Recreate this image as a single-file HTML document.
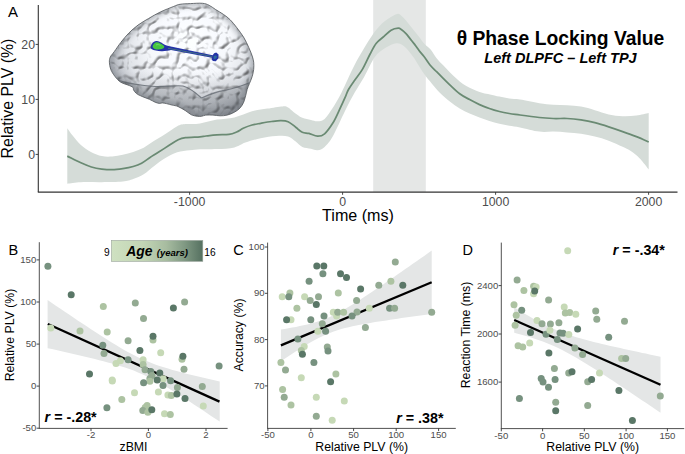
<!DOCTYPE html>
<html><head><meta charset="utf-8"><style>
html,body{margin:0;padding:0;background:#fff;width:685px;height:454px;overflow:hidden}
svg{display:block}
text{font-family:"Liberation Sans",sans-serif}
</style></head><body>
<svg width="685" height="454" viewBox="0 0 685 454" font-family="Liberation Sans, sans-serif">
<rect x="0" y="0" width="685" height="454" fill="#ffffff"/>
<rect x="373.2" y="0" width="52.6" height="192" fill="#e5e7e6"/>
<path d="M67.3,128.2 C68.2,129.4 70.3,132.8 72.6,135.6 C74.9,138.4 77.8,142.2 80.9,145.0 C84.0,147.8 87.9,150.5 91.4,152.3 C94.9,154.2 98.3,155.4 101.8,156.1 C105.3,156.8 108.8,156.7 112.3,156.5 C115.8,156.3 119.3,155.6 122.8,154.8 C126.3,154.0 129.7,153.1 133.2,151.9 C136.7,150.7 140.2,149.5 143.7,147.7 C147.2,145.8 150.7,143.0 154.2,140.8 C157.7,138.6 160.8,136.9 164.6,134.5 C168.4,132.1 173.7,127.9 177.2,126.2 C180.7,124.5 181.7,124.6 185.5,124.1 C189.3,123.6 194.8,124.2 200.0,123.4 C205.2,122.7 211.2,120.6 216.9,119.6 C222.6,118.6 228.6,118.8 234.4,117.4 C240.2,116.0 246.5,112.7 252.0,111.2 C257.5,109.7 262.2,109.4 267.3,108.6 C272.4,107.8 279.1,106.6 282.6,106.4 C286.1,106.2 286.3,106.6 288.1,107.5 C289.9,108.4 291.1,110.2 293.5,111.9 C295.9,113.6 299.4,116.5 302.3,117.8 C305.2,119.1 308.4,119.4 311.0,120.0 C313.6,120.6 315.3,121.5 317.6,121.3 C319.9,121.1 322.0,121.2 324.6,118.9 C327.2,116.6 330.1,112.0 333.0,107.5 C335.9,103.0 338.1,99.3 341.7,92.2 C345.3,85.1 350.0,73.7 354.7,64.8 C359.4,55.9 366.0,45.0 370.1,38.6 C374.2,32.2 376.3,29.6 379.4,26.2 C382.5,22.8 385.6,20.6 388.6,18.5 C391.6,16.4 395.1,14.3 397.3,13.9 C399.5,13.5 400.2,14.9 401.6,16.0 C403.1,17.1 404.5,18.8 406.0,20.4 C407.5,22.0 408.9,24.1 410.4,25.9 C411.9,27.7 413.3,29.6 414.8,31.4 C416.3,33.2 417.7,35.0 419.2,36.9 C420.7,38.8 422.4,41.4 423.7,43.0 C425.0,44.6 425.7,45.1 427.0,46.3 C428.3,47.5 429.8,48.4 431.4,50.4 C433.0,52.4 434.6,55.7 436.6,58.2 C438.6,60.7 441.0,63.0 443.2,65.3 C445.4,67.6 447.6,70.0 449.8,72.2 C452.0,74.4 454.2,76.6 456.4,78.6 C458.6,80.6 460.8,82.5 463.0,84.0 C465.2,85.5 467.4,86.7 469.6,87.8 C471.8,88.9 474.1,89.9 476.3,90.8 C478.5,91.7 480.6,92.3 482.9,92.9 C485.2,93.5 487.2,93.8 490.0,94.4 C492.8,95.0 496.2,95.9 499.4,96.6 C502.6,97.3 505.9,98.1 509.3,98.6 C512.7,99.1 515.0,98.8 520.0,99.6 C525.0,100.4 533.8,102.4 539.3,103.3 C544.8,104.2 548.6,104.4 553.2,104.7 C557.8,105.0 562.5,104.9 567.1,105.2 C571.7,105.5 576.4,105.8 581.0,106.6 C585.6,107.4 590.2,108.9 594.8,110.2 C599.4,111.5 604.1,113.4 608.7,114.4 C613.3,115.4 618.0,116.1 622.6,116.3 C627.2,116.5 632.0,116.1 636.4,115.6 C640.8,115.0 646.7,113.4 648.7,113.0 L648.7,169.5 C647.6,168.1 644.0,163.4 642.0,161.0 C640.0,158.6 638.4,157.1 636.4,155.3 C634.4,153.6 632.3,151.9 630.0,150.5 C627.7,149.1 626.1,148.4 622.6,146.8 C619.1,145.2 613.3,142.4 608.7,140.7 C604.1,139.0 599.4,137.8 594.8,136.6 C590.2,135.4 585.6,134.5 581.0,133.8 C576.4,133.1 571.7,132.8 567.1,132.4 C562.5,132.0 557.8,131.7 553.2,131.6 C548.6,131.5 544.8,132.3 539.3,131.6 C533.8,130.9 525.0,128.4 520.0,127.4 C515.0,126.4 512.7,126.4 509.3,125.8 C505.9,125.2 502.7,124.6 499.4,123.8 C496.1,123.0 492.7,122.0 489.4,121.0 C486.1,120.0 482.8,118.8 479.5,117.5 C476.2,116.2 472.9,115.0 469.6,113.5 C466.3,112.0 463.0,110.5 459.7,108.5 C456.4,106.5 453.1,104.2 449.8,101.6 C446.5,99.0 442.8,95.7 439.8,92.7 C436.8,89.7 434.5,86.9 431.9,83.7 C429.3,80.5 427.1,78.2 424.0,73.8 C420.9,69.4 416.6,61.7 413.3,57.1 C410.0,52.5 406.9,48.6 404.1,46.3 C401.3,44.0 399.5,43.0 396.4,43.2 C393.3,43.5 389.2,45.5 385.6,47.8 C382.0,50.1 378.4,52.2 374.8,57.1 C371.2,62.0 367.4,71.3 364.0,77.2 C360.6,83.1 357.9,87.0 354.7,92.6 C351.5,98.2 348.6,103.8 345.0,111.0 C341.4,118.2 336.4,130.0 333.0,136.0 C329.6,142.0 327.2,144.5 324.6,146.9 C322.0,149.3 319.9,149.9 317.6,150.2 C315.3,150.5 313.6,149.2 311.0,148.7 C308.4,148.1 304.9,148.1 302.3,146.9 C299.8,145.7 298.1,143.2 295.7,141.5 C293.3,139.8 291.4,137.3 288.1,136.4 C284.8,135.5 280.6,135.7 276.0,136.0 C271.4,136.3 265.8,137.1 260.7,138.2 C255.6,139.3 249.8,141.1 245.4,142.6 C241.0,144.1 239.2,146.3 234.4,147.4 C229.7,148.5 222.6,148.8 216.9,149.1 C211.2,149.4 204.5,149.0 200.0,149.2 C195.5,149.4 193.5,149.7 189.7,150.2 C185.9,150.7 181.4,150.9 177.2,152.3 C173.0,153.7 168.4,156.3 164.6,158.6 C160.8,160.9 157.7,163.3 154.2,165.9 C150.7,168.5 147.2,172.1 143.7,174.3 C140.2,176.5 136.7,177.9 133.2,179.1 C129.7,180.3 128.0,181.1 122.8,181.6 C117.6,182.1 108.8,182.1 101.8,182.2 C94.8,182.3 86.7,181.9 80.9,182.2 C75.2,182.4 69.6,183.4 67.3,183.7 Z" fill="#d5dcd8"/>
<path d="M67.3,156.1 C69.6,157.2 76.9,161.0 80.9,162.8 C84.9,164.6 87.9,165.9 91.4,167.0 C94.9,168.1 98.3,168.7 101.8,169.1 C105.3,169.5 108.8,169.8 112.3,169.7 C115.8,169.6 119.3,169.1 122.8,168.6 C126.3,168.1 130.1,167.4 133.2,166.5 C136.3,165.6 138.8,164.7 141.6,163.2 C144.4,161.7 147.2,159.3 150.0,157.5 C152.8,155.7 155.2,154.3 158.3,152.3 C161.4,150.3 165.5,147.7 168.8,145.6 C172.1,143.5 175.4,141.1 178.2,139.8 C181.0,138.5 181.9,138.2 185.5,137.7 C189.1,137.2 196.6,137.1 200.0,136.8 C203.4,136.5 203.2,136.3 206.0,136.0 C208.8,135.7 213.1,135.2 216.9,134.9 C220.7,134.6 225.6,134.9 228.9,134.4 C232.2,133.9 234.2,133.0 236.6,132.0 C239.0,131.0 240.6,129.5 243.2,128.3 C245.8,127.1 249.1,125.8 252.0,125.0 C254.9,124.2 257.4,123.9 260.7,123.3 C264.0,122.7 268.3,121.9 271.6,121.5 C274.9,121.1 277.6,120.7 280.4,120.7 C283.1,120.7 285.6,120.6 288.1,121.7 C290.7,122.8 293.3,125.4 295.7,127.2 C298.1,129.0 300.1,131.3 302.3,132.3 C304.5,133.3 306.3,132.8 308.9,133.4 C311.4,134.1 315.0,136.1 317.6,136.2 C320.2,136.3 322.0,136.0 324.6,133.8 C327.2,131.6 330.5,126.8 333.0,122.8 C335.5,118.8 337.5,113.9 339.5,109.7 C341.5,105.5 343.5,101.1 345.0,97.7 C346.5,94.3 346.9,92.4 348.5,89.5 C350.1,86.6 352.4,83.5 354.7,80.2 C357.0,76.9 359.8,73.8 362.4,69.4 C365.0,65.0 367.8,58.4 370.1,54.0 C372.4,49.6 374.0,46.1 376.3,43.2 C378.6,40.3 381.5,38.6 384.0,36.4 C386.5,34.2 388.7,31.6 391.1,30.2 C393.5,28.8 396.6,28.3 398.3,28.2 C400.1,28.1 400.3,28.9 401.6,29.8 C402.9,30.7 404.5,32.1 406.0,33.6 C407.5,35.1 408.9,37.3 410.4,39.1 C411.9,40.9 413.3,42.7 414.8,44.6 C416.3,46.5 417.7,48.7 419.2,50.7 C420.7,52.7 422.2,54.1 424.0,56.5 C425.8,58.9 427.9,62.5 430.0,65.0 C432.1,67.5 434.4,69.5 436.6,71.7 C438.8,73.9 441.0,76.1 443.2,78.3 C445.4,80.5 447.1,82.2 449.8,84.8 C452.6,87.4 456.4,91.2 459.7,93.7 C463.0,96.2 466.3,97.8 469.6,99.6 C472.9,101.4 476.2,103.1 479.5,104.6 C482.8,106.1 486.1,107.3 489.4,108.5 C492.7,109.7 496.1,110.7 499.4,111.5 C502.7,112.3 505.9,112.9 509.3,113.5 C512.7,114.1 515.0,114.3 520.0,115.0 C525.0,115.7 533.8,116.9 539.3,117.5 C544.8,118.1 548.6,118.3 553.2,118.5 C557.8,118.7 562.5,118.3 567.1,118.5 C571.7,118.7 576.4,119.2 581.0,119.9 C585.6,120.6 590.2,121.5 594.8,122.7 C599.4,123.9 604.1,125.4 608.7,126.9 C613.3,128.4 618.0,130.0 622.6,131.6 C627.2,133.2 632.0,134.9 636.4,136.6 C640.8,138.3 646.7,141.1 648.7,142.0" fill="none" stroke="#6a8a73" stroke-width="1.75" stroke-linejoin="round"/>
<line x1="38.3" y1="5" x2="38.3" y2="192.1" stroke="#333333" stroke-width="1.1"/>
<line x1="37.8" y1="192.1" x2="677.5" y2="192.1" stroke="#333333" stroke-width="1.1"/>
<line x1="35.6" y1="44.4" x2="38.3" y2="44.4" stroke="#333333" stroke-width="0.9"/><text x="35.0" y="45.4" font-size="12.3" fill="#4d4d4d" text-anchor="end" dominant-baseline="central">20</text><line x1="35.6" y1="99.4" x2="38.3" y2="99.4" stroke="#333333" stroke-width="0.9"/><text x="35.0" y="100.4" font-size="12.3" fill="#4d4d4d" text-anchor="end" dominant-baseline="central">10</text><line x1="35.6" y1="154.4" x2="38.3" y2="154.4" stroke="#333333" stroke-width="0.9"/><text x="35.0" y="155.4" font-size="12.3" fill="#4d4d4d" text-anchor="end" dominant-baseline="central">0</text>
<line x1="189.6" y1="192.1" x2="189.6" y2="194.8" stroke="#333333" stroke-width="0.9"/><text x="189.6" y="205.7" font-size="12.3" fill="#4d4d4d" text-anchor="middle">-1000</text><line x1="342.6" y1="192.1" x2="342.6" y2="194.8" stroke="#333333" stroke-width="0.9"/><text x="342.6" y="205.7" font-size="12.3" fill="#4d4d4d" text-anchor="middle">0</text><line x1="495.6" y1="192.1" x2="495.6" y2="194.8" stroke="#333333" stroke-width="0.9"/><text x="495.6" y="205.7" font-size="12.3" fill="#4d4d4d" text-anchor="middle">1000</text><line x1="648.6" y1="192.1" x2="648.6" y2="194.8" stroke="#333333" stroke-width="0.9"/><text x="648.6" y="205.7" font-size="12.3" fill="#4d4d4d" text-anchor="middle">2000</text>
<text x="358" y="220.8" font-size="16.1" text-anchor="middle" fill="#000">Time (ms)</text>
<text transform="translate(13.3,98.5) rotate(-90)" font-size="15.9" text-anchor="middle" fill="#000">Relative PLV (%)</text>
<text x="7.9" y="16.9" font-size="15" fill="#000">A</text>
<text x="560.5" y="45" font-size="19.3" font-weight="bold" text-anchor="middle" fill="#000">θ Phase Locking Value</text>
<text x="560.5" y="62.7" font-size="14.5" font-weight="bold" font-style="italic" text-anchor="middle" fill="#000">Left DLPFC – Left TPJ</text>
<path d="M47.6,300.0 L51.9,303.0 L56.2,305.9 L60.5,308.8 L64.8,311.7 L69.1,314.6 L73.4,317.5 L77.7,320.4 L82.0,323.2 L86.3,326.1 L90.6,328.9 L94.9,331.7 L99.2,334.5 L103.5,337.3 L107.8,340.0 L112.1,342.7 L116.4,345.3 L120.7,347.9 L125.0,350.4 L129.3,352.8 L133.7,355.1 L138.0,357.2 L142.3,359.2 L146.6,361.1 L150.9,362.8 L155.2,364.4 L159.5,365.9 L163.8,367.3 L168.1,368.6 L172.4,369.9 L176.7,371.1 L181.0,372.2 L185.3,373.4 L189.6,374.4 L193.9,375.5 L198.2,376.5 L202.5,377.6 L206.8,378.6 L211.1,379.6 L215.4,380.6 L219.7,381.6 L219.7,421.6 L215.4,418.8 L211.1,415.9 L206.8,413.0 L202.5,410.1 L198.2,407.3 L193.9,404.4 L189.6,401.6 L185.3,398.8 L181.0,396.1 L176.7,393.4 L172.4,390.7 L168.1,388.1 L163.8,385.5 L159.5,383.0 L155.2,380.6 L150.9,378.4 L146.6,376.2 L142.3,374.2 L138.0,372.4 L133.7,370.6 L129.3,369.1 L125.0,367.6 L120.7,366.2 L116.4,364.9 L112.1,363.6 L107.8,362.4 L103.5,361.3 L99.2,360.2 L94.9,359.1 L90.6,358.0 L86.3,357.0 L82.0,356.0 L77.7,355.0 L73.4,354.0 L69.1,353.0 L64.8,352.0 L60.5,351.0 L56.2,350.1 L51.9,349.1 L47.6,348.2 Z" fill="#e4e6e6"/>
<line x1="47.8" y1="324" x2="219.5" y2="401.6" stroke="#000" stroke-width="2.3"/>
<circle cx="47.9" cy="266.2" r="3.5" fill="#76917f"/>
<circle cx="71.2" cy="294.8" r="3.5" fill="#5a7767"/>
<circle cx="103.3" cy="306.4" r="3.5" fill="#adc3a2"/>
<circle cx="135.3" cy="303.0" r="3.5" fill="#93aa92"/>
<circle cx="173.4" cy="308.0" r="3.5" fill="#5a7767"/>
<circle cx="184.6" cy="302.0" r="3.5" fill="#93aa92"/>
<circle cx="143.5" cy="318.5" r="3.5" fill="#93aa92"/>
<circle cx="50.8" cy="328.0" r="3.5" fill="#c6d9b6"/>
<circle cx="80.0" cy="331.0" r="3.5" fill="#adc3a2"/>
<circle cx="107.2" cy="332.0" r="3.5" fill="#adc3a2"/>
<circle cx="153.0" cy="340.0" r="3.5" fill="#adc3a2"/>
<circle cx="153.0" cy="336.2" r="3.5" fill="#5a7767"/>
<circle cx="128.1" cy="340.7" r="3.5" fill="#93aa92"/>
<circle cx="102.8" cy="345.2" r="3.5" fill="#76917f"/>
<circle cx="104.0" cy="353.5" r="3.5" fill="#93aa92"/>
<circle cx="139.9" cy="350.5" r="3.5" fill="#5a7767"/>
<circle cx="160.7" cy="352.7" r="3.5" fill="#c6d9b6"/>
<circle cx="182.0" cy="359.2" r="3.5" fill="#adc3a2"/>
<circle cx="182.9" cy="356.3" r="3.5" fill="#5a7767"/>
<circle cx="219.1" cy="365.9" r="3.5" fill="#76917f"/>
<circle cx="116.0" cy="363.4" r="3.5" fill="#c6d9b6"/>
<circle cx="120.4" cy="360.8" r="3.5" fill="#c6d9b6"/>
<circle cx="128.1" cy="359.7" r="3.5" fill="#76917f"/>
<circle cx="143.1" cy="359.7" r="3.5" fill="#c6d9b6"/>
<circle cx="143.1" cy="364.5" r="3.5" fill="#adc3a2"/>
<circle cx="89.5" cy="374.0" r="3.5" fill="#5a7767"/>
<circle cx="112.2" cy="380.0" r="3.5" fill="#c6d9b6"/>
<circle cx="184.0" cy="369.2" r="3.5" fill="#93aa92"/>
<circle cx="145.0" cy="369.7" r="3.5" fill="#93aa92"/>
<circle cx="150.8" cy="371.5" r="3.5" fill="#76917f"/>
<circle cx="159.8" cy="372.9" r="3.5" fill="#5a7767"/>
<circle cx="152.0" cy="375.4" r="3.5" fill="#93aa92"/>
<circle cx="149.9" cy="378.5" r="3.5" fill="#93aa92"/>
<circle cx="149.9" cy="381.2" r="3.5" fill="#adc3a2"/>
<circle cx="163.2" cy="378.8" r="3.5" fill="#c6d9b6"/>
<circle cx="157.2" cy="380.0" r="3.5" fill="#5a7767"/>
<circle cx="170.6" cy="380.7" r="3.5" fill="#76917f"/>
<circle cx="143.6" cy="382.8" r="3.5" fill="#76917f"/>
<circle cx="163.0" cy="385.6" r="3.5" fill="#76917f"/>
<circle cx="177.4" cy="387.4" r="3.5" fill="#93aa92"/>
<circle cx="202.3" cy="386.5" r="3.5" fill="#93aa92"/>
<circle cx="134.5" cy="392.8" r="3.5" fill="#c6d9b6"/>
<circle cx="158.4" cy="392.1" r="3.5" fill="#c6d9b6"/>
<circle cx="167.9" cy="394.9" r="3.5" fill="#c6d9b6"/>
<circle cx="171.3" cy="395.6" r="3.5" fill="#adc3a2"/>
<circle cx="176.9" cy="393.9" r="3.5" fill="#5a7767"/>
<circle cx="185.0" cy="398.5" r="3.5" fill="#5a7767"/>
<circle cx="121.8" cy="399.6" r="3.5" fill="#adc3a2"/>
<circle cx="203.3" cy="405.9" r="3.5" fill="#c6d9b6"/>
<circle cx="106.9" cy="407.7" r="3.5" fill="#76917f"/>
<circle cx="147.1" cy="405.5" r="3.5" fill="#adc3a2"/>
<circle cx="145.2" cy="407.6" r="3.5" fill="#adc3a2"/>
<circle cx="142.8" cy="410.6" r="3.5" fill="#93aa92"/>
<circle cx="147.9" cy="412.2" r="3.5" fill="#adc3a2"/>
<circle cx="151.8" cy="409.7" r="3.5" fill="#5a7767"/>
<circle cx="164.5" cy="413.8" r="3.5" fill="#c6d9b6"/>
<circle cx="170.3" cy="414.6" r="3.5" fill="#adc3a2"/>
<circle cx="112.3" cy="381.0" r="3.5" fill="#c6d9b6"/>
<line x1="39.3" y1="242.2" x2="39.3" y2="428.4" stroke="#484848" stroke-width="0.95"/>
<line x1="38.8" y1="428.4" x2="227.6" y2="428.4" stroke="#484848" stroke-width="0.95"/>
<line x1="36.6" y1="259.9" x2="39.3" y2="259.9" stroke="#333333" stroke-width="0.9"/><text x="36.3" y="259.4" font-size="9.6" fill="#4d4d4d" text-anchor="end" dominant-baseline="central">150</text><line x1="36.6" y1="302.0" x2="39.3" y2="302.0" stroke="#333333" stroke-width="0.9"/><text x="36.3" y="301.5" font-size="9.6" fill="#4d4d4d" text-anchor="end" dominant-baseline="central">100</text><line x1="36.6" y1="344.1" x2="39.3" y2="344.1" stroke="#333333" stroke-width="0.9"/><text x="36.3" y="343.6" font-size="9.6" fill="#4d4d4d" text-anchor="end" dominant-baseline="central">50</text><line x1="36.6" y1="386.1" x2="39.3" y2="386.1" stroke="#333333" stroke-width="0.9"/><text x="36.3" y="385.6" font-size="9.6" fill="#4d4d4d" text-anchor="end" dominant-baseline="central">0</text><line x1="36.6" y1="428.2" x2="39.3" y2="428.2" stroke="#333333" stroke-width="0.9"/><text x="36.3" y="427.7" font-size="9.6" fill="#4d4d4d" text-anchor="end" dominant-baseline="central">-50</text>
<line x1="91.0" y1="428.4" x2="91.0" y2="431.1" stroke="#333333" stroke-width="0.9"/><text x="91.0" y="438.4" font-size="9.6" fill="#4d4d4d" text-anchor="middle">-2</text><line x1="148.4" y1="428.4" x2="148.4" y2="431.1" stroke="#333333" stroke-width="0.9"/><text x="148.4" y="438.4" font-size="9.6" fill="#4d4d4d" text-anchor="middle">0</text><line x1="206.0" y1="428.4" x2="206.0" y2="431.1" stroke="#333333" stroke-width="0.9"/><text x="206.0" y="438.4" font-size="9.6" fill="#4d4d4d" text-anchor="middle">2</text>
<text x="133.5" y="451" font-size="12.3" text-anchor="middle" fill="#000">zBMI</text>
<text transform="translate(14.2,335) rotate(-90)" font-size="12.3" text-anchor="middle" fill="#000">Relative PLV (%)</text>
<text x="8.5" y="255" font-size="14.5" fill="#000">B</text>
<text x="44.6" y="422.3" font-size="14.3" font-weight="bold" fill="#000"><tspan font-style="italic">r</tspan> = -.28*</text>
<defs><linearGradient id="lg" x1="0" x2="1" y1="0" y2="0"><stop offset="0" stop-color="#cfe1c1"/><stop offset="0.35" stop-color="#c2d5b5"/><stop offset="0.6" stop-color="#a7bca0"/><stop offset="0.8" stop-color="#809983"/><stop offset="1" stop-color="#557060"/></linearGradient></defs>
<rect x="111.4" y="240.4" width="91.4" height="21" fill="url(#lg)" stroke="#9aa59c" stroke-width="0.6"/>
<text x="104" y="256" font-size="10.2" fill="#000">9</text>
<text x="204.3" y="256" font-size="10.2" fill="#000">16</text>
<text x="126.2" y="255.6" font-size="13.9" font-weight="bold" font-style="italic" fill="#000">Age <tspan font-size="9.5" dx="0.5">(years)</tspan></text>
<path d="M280.9,329.6 L284.7,329.0 L288.4,328.3 L292.2,327.6 L296.0,326.9 L299.8,326.1 L303.5,325.3 L307.3,324.4 L311.1,323.5 L314.8,322.4 L318.6,321.2 L322.4,319.9 L326.1,318.5 L329.9,316.9 L333.7,315.1 L337.4,313.2 L341.2,311.2 L345.0,309.0 L348.8,306.8 L352.5,304.5 L356.3,302.2 L360.1,299.8 L363.8,297.3 L367.6,294.8 L371.4,292.3 L375.1,289.8 L378.9,287.2 L382.7,284.7 L386.5,282.1 L390.2,279.5 L394.0,276.9 L397.8,274.3 L401.5,271.7 L405.3,269.1 L409.1,266.5 L412.8,263.8 L416.6,261.2 L420.4,258.6 L424.2,255.9 L427.9,253.3 L431.7,250.6 L431.7,314.0 L427.9,314.5 L424.2,315.0 L420.4,315.5 L416.6,316.0 L412.8,316.5 L409.1,317.1 L405.3,317.6 L401.5,318.1 L397.8,318.7 L394.0,319.2 L390.2,319.8 L386.5,320.4 L382.7,320.9 L378.9,321.5 L375.1,322.1 L371.4,322.8 L367.6,323.4 L363.8,324.1 L360.1,324.8 L356.3,325.5 L352.5,326.3 L348.8,327.2 L345.0,328.1 L341.2,329.1 L337.4,330.3 L333.7,331.5 L329.9,332.9 L326.1,334.5 L322.4,336.2 L318.6,338.0 L314.8,340.0 L311.1,342.1 L307.3,344.3 L303.5,346.6 L299.8,348.9 L296.0,351.3 L292.2,353.7 L288.4,356.2 L284.7,358.7 L280.9,361.2 Z" fill="#e4e6e6"/>
<line x1="280.9" y1="345.4" x2="431.7" y2="282.3" stroke="#000" stroke-width="2.3"/>
<circle cx="316.8" cy="266.0" r="3.5" fill="#5a7767"/>
<circle cx="323.8" cy="266.0" r="3.5" fill="#5a7767"/>
<circle cx="322.9" cy="273.7" r="3.5" fill="#76917f"/>
<circle cx="340.5" cy="273.7" r="3.5" fill="#5a7767"/>
<circle cx="346.5" cy="277.4" r="3.5" fill="#5a7767"/>
<circle cx="309.1" cy="281.2" r="3.5" fill="#76917f"/>
<circle cx="360.6" cy="288.9" r="3.5" fill="#5a7767"/>
<circle cx="282.2" cy="296.8" r="3.5" fill="#c6d9b6"/>
<circle cx="289.9" cy="292.9" r="3.5" fill="#adc3a2"/>
<circle cx="288.8" cy="296.8" r="3.5" fill="#76917f"/>
<circle cx="304.6" cy="296.8" r="3.5" fill="#c6d9b6"/>
<circle cx="310.2" cy="300.6" r="3.5" fill="#93aa92"/>
<circle cx="318.5" cy="296.8" r="3.5" fill="#93aa92"/>
<circle cx="316.3" cy="304.5" r="3.5" fill="#5a7767"/>
<circle cx="338.3" cy="292.9" r="3.5" fill="#adc3a2"/>
<circle cx="356.6" cy="300.6" r="3.5" fill="#93aa92"/>
<circle cx="296.9" cy="308.3" r="3.5" fill="#adc3a2"/>
<circle cx="333.3" cy="312.2" r="3.5" fill="#c6d9b6"/>
<circle cx="336.6" cy="316.0" r="3.5" fill="#c6d9b6"/>
<circle cx="337.7" cy="312.2" r="3.5" fill="#93aa92"/>
<circle cx="343.6" cy="312.2" r="3.5" fill="#adc3a2"/>
<circle cx="357.0" cy="311.9" r="3.5" fill="#93aa92"/>
<circle cx="352.0" cy="316.0" r="3.5" fill="#76917f"/>
<circle cx="324.0" cy="316.0" r="3.5" fill="#76917f"/>
<circle cx="291.0" cy="319.7" r="3.5" fill="#c6d9b6"/>
<circle cx="286.6" cy="319.7" r="3.5" fill="#5a7767"/>
<circle cx="310.8" cy="319.7" r="3.5" fill="#76917f"/>
<circle cx="322.3" cy="323.7" r="3.5" fill="#93aa92"/>
<circle cx="317.9" cy="331.2" r="3.5" fill="#c6d9b6"/>
<circle cx="325.6" cy="331.2" r="3.5" fill="#76917f"/>
<circle cx="297.9" cy="339.0" r="3.5" fill="#76917f"/>
<circle cx="395.3" cy="262.0" r="3.5" fill="#93aa92"/>
<circle cx="378.8" cy="285.2" r="3.5" fill="#93aa92"/>
<circle cx="390.9" cy="281.2" r="3.5" fill="#adc3a2"/>
<circle cx="402.8" cy="285.2" r="3.5" fill="#5a7767"/>
<circle cx="369.3" cy="308.3" r="3.5" fill="#c6d9b6"/>
<circle cx="389.6" cy="308.3" r="3.5" fill="#76917f"/>
<circle cx="394.6" cy="308.3" r="3.5" fill="#93aa92"/>
<circle cx="431.7" cy="312.2" r="3.5" fill="#93aa92"/>
<circle cx="365.4" cy="327.6" r="3.5" fill="#93aa92"/>
<circle cx="304.2" cy="346.5" r="3.5" fill="#c6d9b6"/>
<circle cx="301.3" cy="350.5" r="3.5" fill="#adc3a2"/>
<circle cx="302.4" cy="354.2" r="3.5" fill="#5a7767"/>
<circle cx="327.3" cy="347.0" r="3.5" fill="#93aa92"/>
<circle cx="328.0" cy="350.9" r="3.5" fill="#76917f"/>
<circle cx="280.9" cy="362.4" r="3.5" fill="#adc3a2"/>
<circle cx="313.9" cy="362.4" r="3.5" fill="#76917f"/>
<circle cx="285.5" cy="370.1" r="3.5" fill="#93aa92"/>
<circle cx="301.3" cy="377.8" r="3.5" fill="#c6d9b6"/>
<circle cx="335.9" cy="374.1" r="3.5" fill="#adc3a2"/>
<circle cx="330.6" cy="381.8" r="3.5" fill="#5a7767"/>
<circle cx="282.6" cy="389.5" r="3.5" fill="#adc3a2"/>
<circle cx="284.2" cy="397.2" r="3.5" fill="#93aa92"/>
<circle cx="316.3" cy="397.2" r="3.5" fill="#c6d9b6"/>
<circle cx="291.0" cy="404.9" r="3.5" fill="#adc3a2"/>
<circle cx="344.3" cy="400.9" r="3.5" fill="#c6d9b6"/>
<circle cx="316.3" cy="416.3" r="3.5" fill="#93aa92"/>
<circle cx="332.2" cy="420.3" r="3.5" fill="#c6d9b6"/>
<line x1="267.6" y1="242.6" x2="267.6" y2="428.4" stroke="#484848" stroke-width="0.95"/>
<line x1="267.1" y1="428.4" x2="455.8" y2="428.4" stroke="#484848" stroke-width="0.95"/>
<line x1="264.9" y1="247.0" x2="267.6" y2="247.0" stroke="#333333" stroke-width="0.9"/><text x="264.6" y="246.5" font-size="9.6" fill="#4d4d4d" text-anchor="end" dominant-baseline="central">100</text><line x1="264.9" y1="293.3" x2="267.6" y2="293.3" stroke="#333333" stroke-width="0.9"/><text x="264.6" y="292.8" font-size="9.6" fill="#4d4d4d" text-anchor="end" dominant-baseline="central">90</text><line x1="264.9" y1="339.6" x2="267.6" y2="339.6" stroke="#333333" stroke-width="0.9"/><text x="264.6" y="339.1" font-size="9.6" fill="#4d4d4d" text-anchor="end" dominant-baseline="central">80</text><line x1="264.9" y1="385.9" x2="267.6" y2="385.9" stroke="#333333" stroke-width="0.9"/><text x="264.6" y="385.4" font-size="9.6" fill="#4d4d4d" text-anchor="end" dominant-baseline="central">70</text>
<line x1="267.9" y1="428.4" x2="267.9" y2="431.1" stroke="#333333" stroke-width="0.9"/><text x="267.9" y="438.4" font-size="9.6" fill="#4d4d4d" text-anchor="middle">-50</text><line x1="310.9" y1="428.4" x2="310.9" y2="431.1" stroke="#333333" stroke-width="0.9"/><text x="310.9" y="438.4" font-size="9.6" fill="#4d4d4d" text-anchor="middle">0</text><line x1="353.6" y1="428.4" x2="353.6" y2="431.1" stroke="#333333" stroke-width="0.9"/><text x="353.6" y="438.4" font-size="9.6" fill="#4d4d4d" text-anchor="middle">50</text><line x1="396.2" y1="428.4" x2="396.2" y2="431.1" stroke="#333333" stroke-width="0.9"/><text x="396.2" y="438.4" font-size="9.6" fill="#4d4d4d" text-anchor="middle">100</text><line x1="438.6" y1="428.4" x2="438.6" y2="431.1" stroke="#333333" stroke-width="0.9"/><text x="438.6" y="438.4" font-size="9.6" fill="#4d4d4d" text-anchor="middle">150</text>
<text x="361.7" y="450.5" font-size="12.3" text-anchor="middle" fill="#000">Relative PLV (%)</text>
<text transform="translate(242.5,335) rotate(-90)" font-size="12.3" text-anchor="middle" fill="#000">Accuracy (%)</text>
<text x="233.3" y="255" font-size="14.5" fill="#000">C</text>
<text x="396.2" y="422.5" font-size="14.3" font-weight="bold" fill="#000"><tspan font-style="italic">r</tspan> = .38*</text>
<path d="M514.2,307.2 L517.9,309.5 L521.5,311.7 L525.2,313.9 L528.8,316.1 L532.5,318.2 L536.1,320.3 L539.8,322.2 L543.5,324.1 L547.1,325.9 L550.8,327.7 L554.4,329.3 L558.1,330.8 L561.7,332.2 L565.4,333.6 L569.1,334.9 L572.7,336.0 L576.4,337.2 L580.0,338.3 L583.7,339.3 L587.4,340.3 L591.0,341.2 L594.7,342.2 L598.3,343.1 L602.0,344.0 L605.6,344.8 L609.3,345.7 L613.0,346.5 L616.6,347.3 L620.3,348.1 L623.9,348.9 L627.6,349.7 L631.2,350.5 L634.9,351.3 L638.6,352.1 L642.2,352.9 L645.9,353.6 L649.5,354.4 L653.2,355.2 L656.8,355.9 L660.5,356.7 L660.5,412.7 L656.8,410.2 L653.2,407.8 L649.5,405.3 L645.9,402.8 L642.2,400.4 L638.6,397.9 L634.9,395.4 L631.2,393.0 L627.6,390.5 L623.9,388.1 L620.3,385.7 L616.6,383.3 L613.0,380.8 L609.3,378.4 L605.6,376.1 L602.0,373.7 L598.3,371.3 L594.7,369.0 L591.0,366.7 L587.4,364.4 L583.7,362.2 L580.0,360.0 L576.4,357.8 L572.7,355.7 L569.1,353.7 L565.4,351.7 L561.7,349.8 L558.1,348.0 L554.4,346.3 L550.8,344.7 L547.1,343.2 L543.5,341.7 L539.8,340.4 L536.1,339.2 L532.5,338.0 L528.8,336.8 L525.2,335.8 L521.5,334.7 L517.9,333.8 L514.2,332.8 Z" fill="#e4e6e6"/>
<line x1="514.2" y1="320" x2="660.5" y2="384.7" stroke="#000" stroke-width="2.3"/>
<circle cx="517.1" cy="280.0" r="3.5" fill="#93aa92"/>
<circle cx="523.9" cy="290.6" r="3.5" fill="#adc3a2"/>
<circle cx="533.6" cy="286.2" r="3.5" fill="#adc3a2"/>
<circle cx="536.1" cy="287.1" r="3.5" fill="#c6d9b6"/>
<circle cx="533.6" cy="293.7" r="3.5" fill="#c6d9b6"/>
<circle cx="534.7" cy="291.1" r="3.5" fill="#5a7767"/>
<circle cx="548.6" cy="299.9" r="3.5" fill="#93aa92"/>
<circle cx="514.0" cy="304.7" r="3.5" fill="#adc3a2"/>
<circle cx="521.7" cy="310.2" r="3.5" fill="#76917f"/>
<circle cx="516.2" cy="315.3" r="3.5" fill="#adc3a2"/>
<circle cx="537.0" cy="320.4" r="3.5" fill="#c6d9b6"/>
<circle cx="542.0" cy="323.7" r="3.5" fill="#93aa92"/>
<circle cx="550.4" cy="324.0" r="3.5" fill="#93aa92"/>
<circle cx="515.1" cy="325.2" r="3.5" fill="#adc3a2"/>
<circle cx="530.5" cy="332.5" r="3.5" fill="#5a7767"/>
<circle cx="546.0" cy="334.2" r="3.5" fill="#76917f"/>
<circle cx="549.9" cy="330.2" r="3.5" fill="#c6d9b6"/>
<circle cx="567.7" cy="250.8" r="3.5" fill="#c6d9b6"/>
<circle cx="564.2" cy="306.9" r="3.5" fill="#c6d9b6"/>
<circle cx="565.3" cy="313.1" r="3.5" fill="#adc3a2"/>
<circle cx="569.7" cy="312.4" r="3.5" fill="#adc3a2"/>
<circle cx="575.8" cy="314.2" r="3.5" fill="#c6d9b6"/>
<circle cx="595.7" cy="310.9" r="3.5" fill="#93aa92"/>
<circle cx="596.8" cy="319.3" r="3.5" fill="#93aa92"/>
<circle cx="624.5" cy="321.3" r="3.5" fill="#93aa92"/>
<circle cx="558.9" cy="322.8" r="3.5" fill="#93aa92"/>
<circle cx="577.6" cy="328.9" r="3.5" fill="#5a7767"/>
<circle cx="560.0" cy="332.9" r="3.5" fill="#76917f"/>
<circle cx="563.1" cy="333.2" r="3.5" fill="#76917f"/>
<circle cx="568.8" cy="334.5" r="3.5" fill="#c6d9b6"/>
<circle cx="557.3" cy="339.4" r="3.5" fill="#76917f"/>
<circle cx="518.1" cy="345.8" r="3.5" fill="#adc3a2"/>
<circle cx="522.7" cy="346.9" r="3.5" fill="#adc3a2"/>
<circle cx="529.7" cy="343.1" r="3.5" fill="#c6d9b6"/>
<circle cx="574.9" cy="348.0" r="3.5" fill="#93aa92"/>
<circle cx="582.6" cy="354.6" r="3.5" fill="#93aa92"/>
<circle cx="548.9" cy="353.0" r="3.5" fill="#5a7767"/>
<circle cx="554.4" cy="368.5" r="3.5" fill="#93aa92"/>
<circle cx="568.7" cy="372.9" r="3.5" fill="#93aa92"/>
<circle cx="572.0" cy="371.8" r="3.5" fill="#5a7767"/>
<circle cx="599.5" cy="373.0" r="3.5" fill="#c6d9b6"/>
<circle cx="541.2" cy="378.4" r="3.5" fill="#76917f"/>
<circle cx="543.0" cy="382.1" r="3.5" fill="#76917f"/>
<circle cx="555.1" cy="379.5" r="3.5" fill="#76917f"/>
<circle cx="587.7" cy="381.8" r="3.5" fill="#93aa92"/>
<circle cx="591.6" cy="379.6" r="3.5" fill="#5a7767"/>
<circle cx="548.5" cy="387.2" r="3.5" fill="#76917f"/>
<circle cx="519.4" cy="398.6" r="3.5" fill="#76917f"/>
<circle cx="555.7" cy="402.2" r="3.5" fill="#93aa92"/>
<circle cx="555.7" cy="410.7" r="3.5" fill="#5a7767"/>
<circle cx="587.7" cy="405.6" r="3.5" fill="#93aa92"/>
<circle cx="608.7" cy="337.3" r="3.5" fill="#76917f"/>
<circle cx="621.6" cy="358.6" r="3.5" fill="#adc3a2"/>
<circle cx="625.7" cy="358.6" r="3.5" fill="#93aa92"/>
<circle cx="618.9" cy="390.5" r="3.5" fill="#5a7767"/>
<circle cx="660.3" cy="395.9" r="3.5" fill="#93aa92"/>
<circle cx="632.4" cy="420.4" r="3.5" fill="#5a7767"/>
<line x1="501.3" y1="242.6" x2="501.3" y2="428.6" stroke="#484848" stroke-width="0.95"/>
<line x1="500.8" y1="428.6" x2="684.2" y2="428.6" stroke="#484848" stroke-width="0.95"/>
<line x1="498.6" y1="285.6" x2="501.3" y2="285.6" stroke="#333333" stroke-width="0.9"/><text x="498.3" y="285.1" font-size="9.6" fill="#4d4d4d" text-anchor="end" dominant-baseline="central">2400</text><line x1="498.6" y1="334.0" x2="501.3" y2="334.0" stroke="#333333" stroke-width="0.9"/><text x="498.3" y="333.5" font-size="9.6" fill="#4d4d4d" text-anchor="end" dominant-baseline="central">2000</text><line x1="498.6" y1="382.1" x2="501.3" y2="382.1" stroke="#333333" stroke-width="0.9"/><text x="498.3" y="381.6" font-size="9.6" fill="#4d4d4d" text-anchor="end" dominant-baseline="central">1600</text>
<line x1="501.3" y1="428.6" x2="501.3" y2="431.3" stroke="#333333" stroke-width="0.9"/><text x="501.3" y="438.5" font-size="9.6" fill="#4d4d4d" text-anchor="middle">-50</text><line x1="542.6" y1="428.6" x2="542.6" y2="431.3" stroke="#333333" stroke-width="0.9"/><text x="542.6" y="438.5" font-size="9.6" fill="#4d4d4d" text-anchor="middle">0</text><line x1="584.3" y1="428.6" x2="584.3" y2="431.3" stroke="#333333" stroke-width="0.9"/><text x="584.3" y="438.5" font-size="9.6" fill="#4d4d4d" text-anchor="middle">50</text><line x1="626.1" y1="428.6" x2="626.1" y2="431.3" stroke="#333333" stroke-width="0.9"/><text x="626.1" y="438.5" font-size="9.6" fill="#4d4d4d" text-anchor="middle">100</text><line x1="667.4" y1="428.6" x2="667.4" y2="431.3" stroke="#333333" stroke-width="0.9"/><text x="667.4" y="438.5" font-size="9.6" fill="#4d4d4d" text-anchor="middle">150</text>
<text x="592.7" y="450.5" font-size="12.3" text-anchor="middle" fill="#000">Relative PLV (%)</text>
<text transform="translate(470.3,335) rotate(-90)" font-size="12.3" text-anchor="middle" fill="#000">Reaction Time (ms)</text>
<text x="462.5" y="255" font-size="14.5" fill="#000">D</text>
<text x="612.8" y="254.7" font-size="14.3" font-weight="bold" fill="#000"><tspan font-style="italic">r</tspan> = -.34*</text>
<defs>
<clipPath id="bc"><path d="M180.0,4.3 C182.8,3.8 186.8,3.8 190.6,3.6 C194.3,3.4 199.4,3.0 202.5,3.3 C205.6,3.6 206.9,4.2 209.1,5.3 C211.3,6.3 213.3,8.1 215.7,9.6 C218.1,11.1 221.2,12.8 223.6,14.5 C226.0,16.2 228.0,17.6 230.2,19.8 C232.4,22.0 234.7,24.9 236.9,27.8 C239.1,30.7 241.5,33.7 243.5,37.0 C245.5,40.3 247.4,44.4 248.8,47.6 C250.2,50.8 251.4,53.6 252.2,56.0 C253.0,58.4 253.4,60.0 253.7,62.2 C253.9,64.4 253.9,66.9 253.7,69.3 C253.4,71.7 252.9,74.1 252.2,76.5 C251.5,78.9 250.2,81.5 249.4,83.6 C248.6,85.7 247.8,87.4 247.2,89.3 C246.6,91.2 246.4,92.9 245.8,95.1 C245.2,97.2 244.6,100.1 243.7,102.2 C242.8,104.3 241.6,106.2 240.1,107.9 C238.6,109.6 236.6,111.0 234.4,112.2 C232.2,113.4 229.6,114.5 227.2,115.1 C224.8,115.7 222.5,115.8 220.1,115.8 C217.7,115.8 215.3,115.2 212.9,115.1 C210.5,115.0 207.7,114.9 205.8,115.1 C203.9,115.3 202.9,116.1 201.5,116.3 C200.1,116.5 198.9,116.5 197.2,116.3 C195.5,116.0 193.3,115.7 191.4,114.8 C189.5,113.9 187.9,112.2 185.7,110.8 C183.5,109.4 180.2,107.5 178.0,106.5 C175.8,105.5 174.1,105.6 172.2,105.1 C170.3,104.6 168.2,104.0 166.5,103.6 C164.8,103.2 163.4,102.9 162.2,102.9 C161.0,102.9 160.6,103.5 159.4,103.4 C158.2,103.3 156.8,102.9 155.1,102.2 C153.4,101.5 151.6,100.2 149.4,99.3 C147.2,98.3 144.3,97.5 142.2,96.5 C140.0,95.5 137.9,94.7 136.5,93.6 C135.1,92.5 134.2,91.0 133.6,90.0 C133.0,89.0 133.8,88.1 132.9,87.3 C132.0,86.5 129.9,85.8 127.9,85.0 C125.9,84.2 122.9,83.6 120.7,82.2 C118.5,80.8 116.7,78.7 115.0,76.5 C113.3,74.3 111.6,71.7 110.7,69.3 C109.8,66.9 109.5,64.2 109.4,62.2 C109.3,60.2 109.5,58.8 110.3,57.0 C111.1,55.2 112.5,54.1 114.3,51.6 C116.1,49.1 118.5,45.4 120.9,42.3 C123.3,39.2 126.0,36.0 128.8,33.1 C131.7,30.2 134.7,27.5 138.0,25.1 C141.3,22.7 144.8,20.7 148.6,18.5 C152.3,16.3 156.3,13.9 160.5,11.9 C164.7,9.9 170.6,7.7 173.8,6.4 C177.1,5.1 177.2,4.8 180.0,4.3 Z"/></clipPath>
<radialGradient id="bg" cx="190" cy="40" r="90" gradientUnits="userSpaceOnUse">
<stop offset="0" stop-color="#f3f5f8"/><stop offset="0.45" stop-color="#eceef2"/><stop offset="0.72" stop-color="#d6d9de"/><stop offset="1" stop-color="#969aa2"/></radialGradient>
<filter id="tex" x="100" y="0" width="160" height="125" filterUnits="userSpaceOnUse">
<feTurbulence type="turbulence" baseFrequency="0.1" numOctaves="2" seed="7" result="t"/>
<feColorMatrix in="t" type="matrix" values="0 0 0 0 0  0 0 0 0 0  0 0 0 0 0  3 0 0 0 0" result="a"/>
<feGaussianBlur in="a" stdDeviation="0.85" result="ab"/>
<feDiffuseLighting in="ab" surfaceScale="3.0" lighting-color="#ffffff" diffuseConstant="1.3" result="l"><feDistantLight azimuth="235" elevation="52"/></feDiffuseLighting>
<feComposite in="l" in2="SourceGraphic" operator="arithmetic" k1="0.9" k2="0" k3="0.2" k4="0" result="m"/>
<feComposite in="m" in2="SourceAlpha" operator="in"/>
</filter>
<filter id="bl" x="-10%" y="-10%" width="120%" height="120%"><feGaussianBlur stdDeviation="0.6"/></filter>
<linearGradient id="bshade" x1="0" y1="0" x2="0" y2="1" gradientUnits="objectBoundingBox"><stop offset="0" stop-color="#5a5f66" stop-opacity="0"/><stop offset="0.6" stop-color="#5a5f66" stop-opacity="0"/><stop offset="1" stop-color="#5a5f66" stop-opacity="0.32"/></linearGradient>
<filter id="bl3" x="-10%" y="-10%" width="120%" height="120%"><feGaussianBlur stdDeviation="2.5"/></filter>
</defs>
<g clip-path="url(#bc)">
<path d="M180.0,4.3 C182.8,3.8 186.8,3.8 190.6,3.6 C194.3,3.4 199.4,3.0 202.5,3.3 C205.6,3.6 206.9,4.2 209.1,5.3 C211.3,6.3 213.3,8.1 215.7,9.6 C218.1,11.1 221.2,12.8 223.6,14.5 C226.0,16.2 228.0,17.6 230.2,19.8 C232.4,22.0 234.7,24.9 236.9,27.8 C239.1,30.7 241.5,33.7 243.5,37.0 C245.5,40.3 247.4,44.4 248.8,47.6 C250.2,50.8 251.4,53.6 252.2,56.0 C253.0,58.4 253.4,60.0 253.7,62.2 C253.9,64.4 253.9,66.9 253.7,69.3 C253.4,71.7 252.9,74.1 252.2,76.5 C251.5,78.9 250.2,81.5 249.4,83.6 C248.6,85.7 247.8,87.4 247.2,89.3 C246.6,91.2 246.4,92.9 245.8,95.1 C245.2,97.2 244.6,100.1 243.7,102.2 C242.8,104.3 241.6,106.2 240.1,107.9 C238.6,109.6 236.6,111.0 234.4,112.2 C232.2,113.4 229.6,114.5 227.2,115.1 C224.8,115.7 222.5,115.8 220.1,115.8 C217.7,115.8 215.3,115.2 212.9,115.1 C210.5,115.0 207.7,114.9 205.8,115.1 C203.9,115.3 202.9,116.1 201.5,116.3 C200.1,116.5 198.9,116.5 197.2,116.3 C195.5,116.0 193.3,115.7 191.4,114.8 C189.5,113.9 187.9,112.2 185.7,110.8 C183.5,109.4 180.2,107.5 178.0,106.5 C175.8,105.5 174.1,105.6 172.2,105.1 C170.3,104.6 168.2,104.0 166.5,103.6 C164.8,103.2 163.4,102.9 162.2,102.9 C161.0,102.9 160.6,103.5 159.4,103.4 C158.2,103.3 156.8,102.9 155.1,102.2 C153.4,101.5 151.6,100.2 149.4,99.3 C147.2,98.3 144.3,97.5 142.2,96.5 C140.0,95.5 137.9,94.7 136.5,93.6 C135.1,92.5 134.2,91.0 133.6,90.0 C133.0,89.0 133.8,88.1 132.9,87.3 C132.0,86.5 129.9,85.8 127.9,85.0 C125.9,84.2 122.9,83.6 120.7,82.2 C118.5,80.8 116.7,78.7 115.0,76.5 C113.3,74.3 111.6,71.7 110.7,69.3 C109.8,66.9 109.5,64.2 109.4,62.2 C109.3,60.2 109.5,58.8 110.3,57.0 C111.1,55.2 112.5,54.1 114.3,51.6 C116.1,49.1 118.5,45.4 120.9,42.3 C123.3,39.2 126.0,36.0 128.8,33.1 C131.7,30.2 134.7,27.5 138.0,25.1 C141.3,22.7 144.8,20.7 148.6,18.5 C152.3,16.3 156.3,13.9 160.5,11.9 C164.7,9.9 170.6,7.7 173.8,6.4 C177.1,5.1 177.2,4.8 180.0,4.3 Z" fill="url(#bg)" filter="url(#tex)"/>
<path d="M180.0,4.3 C182.8,3.8 186.8,3.8 190.6,3.6 C194.3,3.4 199.4,3.0 202.5,3.3 C205.6,3.6 206.9,4.2 209.1,5.3 C211.3,6.3 213.3,8.1 215.7,9.6 C218.1,11.1 221.2,12.8 223.6,14.5 C226.0,16.2 228.0,17.6 230.2,19.8 C232.4,22.0 234.7,24.9 236.9,27.8 C239.1,30.7 241.5,33.7 243.5,37.0 C245.5,40.3 247.4,44.4 248.8,47.6 C250.2,50.8 251.4,53.6 252.2,56.0 C253.0,58.4 253.4,60.0 253.7,62.2 C253.9,64.4 253.9,66.9 253.7,69.3 C253.4,71.7 252.9,74.1 252.2,76.5 C251.5,78.9 250.2,81.5 249.4,83.6 C248.6,85.7 247.8,87.4 247.2,89.3 C246.6,91.2 246.4,92.9 245.8,95.1 C245.2,97.2 244.6,100.1 243.7,102.2 C242.8,104.3 241.6,106.2 240.1,107.9 C238.6,109.6 236.6,111.0 234.4,112.2 C232.2,113.4 229.6,114.5 227.2,115.1 C224.8,115.7 222.5,115.8 220.1,115.8 C217.7,115.8 215.3,115.2 212.9,115.1 C210.5,115.0 207.7,114.9 205.8,115.1 C203.9,115.3 202.9,116.1 201.5,116.3 C200.1,116.5 198.9,116.5 197.2,116.3 C195.5,116.0 193.3,115.7 191.4,114.8 C189.5,113.9 187.9,112.2 185.7,110.8 C183.5,109.4 180.2,107.5 178.0,106.5 C175.8,105.5 174.1,105.6 172.2,105.1 C170.3,104.6 168.2,104.0 166.5,103.6 C164.8,103.2 163.4,102.9 162.2,102.9 C161.0,102.9 160.6,103.5 159.4,103.4 C158.2,103.3 156.8,102.9 155.1,102.2 C153.4,101.5 151.6,100.2 149.4,99.3 C147.2,98.3 144.3,97.5 142.2,96.5 C140.0,95.5 137.9,94.7 136.5,93.6 C135.1,92.5 134.2,91.0 133.6,90.0 C133.0,89.0 133.8,88.1 132.9,87.3 C132.0,86.5 129.9,85.8 127.9,85.0 C125.9,84.2 122.9,83.6 120.7,82.2 C118.5,80.8 116.7,78.7 115.0,76.5 C113.3,74.3 111.6,71.7 110.7,69.3 C109.8,66.9 109.5,64.2 109.4,62.2 C109.3,60.2 109.5,58.8 110.3,57.0 C111.1,55.2 112.5,54.1 114.3,51.6 C116.1,49.1 118.5,45.4 120.9,42.3 C123.3,39.2 126.0,36.0 128.8,33.1 C131.7,30.2 134.7,27.5 138.0,25.1 C141.3,22.7 144.8,20.7 148.6,18.5 C152.3,16.3 156.3,13.9 160.5,11.9 C164.7,9.9 170.6,7.7 173.8,6.4 C177.1,5.1 177.2,4.8 180.0,4.3 Z" fill="url(#bshade)"/>
<path d="M180.0,4.3 C182.8,3.8 186.8,3.8 190.6,3.6 C194.3,3.4 199.4,3.0 202.5,3.3 C205.6,3.6 206.9,4.2 209.1,5.3 C211.3,6.3 213.3,8.1 215.7,9.6 C218.1,11.1 221.2,12.8 223.6,14.5 C226.0,16.2 228.0,17.6 230.2,19.8 C232.4,22.0 234.7,24.9 236.9,27.8 C239.1,30.7 241.5,33.7 243.5,37.0 C245.5,40.3 247.4,44.4 248.8,47.6 C250.2,50.8 251.4,53.6 252.2,56.0 C253.0,58.4 253.4,60.0 253.7,62.2 C253.9,64.4 253.9,66.9 253.7,69.3 C253.4,71.7 252.9,74.1 252.2,76.5 C251.5,78.9 250.2,81.5 249.4,83.6 C248.6,85.7 247.8,87.4 247.2,89.3 C246.6,91.2 246.4,92.9 245.8,95.1 C245.2,97.2 244.6,100.1 243.7,102.2 C242.8,104.3 241.6,106.2 240.1,107.9 C238.6,109.6 236.6,111.0 234.4,112.2 C232.2,113.4 229.6,114.5 227.2,115.1 C224.8,115.7 222.5,115.8 220.1,115.8 C217.7,115.8 215.3,115.2 212.9,115.1 C210.5,115.0 207.7,114.9 205.8,115.1 C203.9,115.3 202.9,116.1 201.5,116.3 C200.1,116.5 198.9,116.5 197.2,116.3 C195.5,116.0 193.3,115.7 191.4,114.8 C189.5,113.9 187.9,112.2 185.7,110.8 C183.5,109.4 180.2,107.5 178.0,106.5 C175.8,105.5 174.1,105.6 172.2,105.1 C170.3,104.6 168.2,104.0 166.5,103.6 C164.8,103.2 163.4,102.9 162.2,102.9 C161.0,102.9 160.6,103.5 159.4,103.4 C158.2,103.3 156.8,102.9 155.1,102.2 C153.4,101.5 151.6,100.2 149.4,99.3 C147.2,98.3 144.3,97.5 142.2,96.5 C140.0,95.5 137.9,94.7 136.5,93.6 C135.1,92.5 134.2,91.0 133.6,90.0 C133.0,89.0 133.8,88.1 132.9,87.3 C132.0,86.5 129.9,85.8 127.9,85.0 C125.9,84.2 122.9,83.6 120.7,82.2 C118.5,80.8 116.7,78.7 115.0,76.5 C113.3,74.3 111.6,71.7 110.7,69.3 C109.8,66.9 109.5,64.2 109.4,62.2 C109.3,60.2 109.5,58.8 110.3,57.0 C111.1,55.2 112.5,54.1 114.3,51.6 C116.1,49.1 118.5,45.4 120.9,42.3 C123.3,39.2 126.0,36.0 128.8,33.1 C131.7,30.2 134.7,27.5 138.0,25.1 C141.3,22.7 144.8,20.7 148.6,18.5 C152.3,16.3 156.3,13.9 160.5,11.9 C164.7,9.9 170.6,7.7 173.8,6.4 C177.1,5.1 177.2,4.8 180.0,4.3 Z" fill="none" stroke="#7d8288" stroke-width="7" opacity="0.45" filter="url(#bl3)"/>
<path d="M118,80 C128,84 140,85.5 155,86.5 C165,87 175,85 183,86 C190,88 196,93 201.5,98 C208,95 216,91.5 224,90.5 C232,89 240,86.5 250,82 L262,82 L262,125 L100,125 L100,80 Z" fill="#4e545c" opacity="0.17" filter="url(#bl)"/>
<path d="M119,80.5 C130,84 142,85.5 155,86.5 C165,87 175,85 183,86 C190,88 196,93 201.5,98" fill="none" stroke="#5d636b" stroke-width="1.2" opacity="0.75" filter="url(#bl)"/>
<path d="M201.5,98 C208,95 216,91.5 224,90.5 C232,89 240,86.5 249,83" fill="none" stroke="#5d636b" stroke-width="1.3" opacity="0.7" filter="url(#bl)"/>
<path d="M184,110 C188,107 192,107 195,111 L194,116 Z" fill="#8a8e94" opacity="0.6" filter="url(#bl)"/>
</g>
<path d="M180.0,4.3 C182.8,3.8 186.8,3.8 190.6,3.6 C194.3,3.4 199.4,3.0 202.5,3.3 C205.6,3.6 206.9,4.2 209.1,5.3 C211.3,6.3 213.3,8.1 215.7,9.6 C218.1,11.1 221.2,12.8 223.6,14.5 C226.0,16.2 228.0,17.6 230.2,19.8 C232.4,22.0 234.7,24.9 236.9,27.8 C239.1,30.7 241.5,33.7 243.5,37.0 C245.5,40.3 247.4,44.4 248.8,47.6 C250.2,50.8 251.4,53.6 252.2,56.0 C253.0,58.4 253.4,60.0 253.7,62.2 C253.9,64.4 253.9,66.9 253.7,69.3 C253.4,71.7 252.9,74.1 252.2,76.5 C251.5,78.9 250.2,81.5 249.4,83.6 C248.6,85.7 247.8,87.4 247.2,89.3 C246.6,91.2 246.4,92.9 245.8,95.1 C245.2,97.2 244.6,100.1 243.7,102.2 C242.8,104.3 241.6,106.2 240.1,107.9 C238.6,109.6 236.6,111.0 234.4,112.2 C232.2,113.4 229.6,114.5 227.2,115.1 C224.8,115.7 222.5,115.8 220.1,115.8 C217.7,115.8 215.3,115.2 212.9,115.1 C210.5,115.0 207.7,114.9 205.8,115.1 C203.9,115.3 202.9,116.1 201.5,116.3 C200.1,116.5 198.9,116.5 197.2,116.3 C195.5,116.0 193.3,115.7 191.4,114.8 C189.5,113.9 187.9,112.2 185.7,110.8 C183.5,109.4 180.2,107.5 178.0,106.5 C175.8,105.5 174.1,105.6 172.2,105.1 C170.3,104.6 168.2,104.0 166.5,103.6 C164.8,103.2 163.4,102.9 162.2,102.9 C161.0,102.9 160.6,103.5 159.4,103.4 C158.2,103.3 156.8,102.9 155.1,102.2 C153.4,101.5 151.6,100.2 149.4,99.3 C147.2,98.3 144.3,97.5 142.2,96.5 C140.0,95.5 137.9,94.7 136.5,93.6 C135.1,92.5 134.2,91.0 133.6,90.0 C133.0,89.0 133.8,88.1 132.9,87.3 C132.0,86.5 129.9,85.8 127.9,85.0 C125.9,84.2 122.9,83.6 120.7,82.2 C118.5,80.8 116.7,78.7 115.0,76.5 C113.3,74.3 111.6,71.7 110.7,69.3 C109.8,66.9 109.5,64.2 109.4,62.2 C109.3,60.2 109.5,58.8 110.3,57.0 C111.1,55.2 112.5,54.1 114.3,51.6 C116.1,49.1 118.5,45.4 120.9,42.3 C123.3,39.2 126.0,36.0 128.8,33.1 C131.7,30.2 134.7,27.5 138.0,25.1 C141.3,22.7 144.8,20.7 148.6,18.5 C152.3,16.3 156.3,13.9 160.5,11.9 C164.7,9.9 170.6,7.7 173.8,6.4 C177.1,5.1 177.2,4.8 180.0,4.3 Z" fill="none" stroke="#55595e" stroke-width="1" opacity="0.85"/>
<path d="M150.6,47.2 C151,45 152,43.2 153.6,42 C155,41 156.6,40.6 157.8,41.2 C159.6,41.6 161.3,42.4 162.6,43.6 C164.2,44.8 166,45.6 168.5,46 L172,46.8 L212.6,55.3 L214.2,53.2 L216.2,52.6 L218.6,54.6 L218.2,58.6 L215.8,61.2 L213,61 L211.6,59.4 L212,57.7 L171,50.1 C168,50.8 165,51.3 161.5,51.2 C157.5,51.1 153.6,50.4 151.5,49 C150.9,48.5 150.6,47.9 150.6,47.2 Z" fill="#2433a6"/>
<path d="M152.6,46.6 C152.9,44.8 154,43.2 155.6,42.5 C157.2,42 158.8,42.6 160.3,43.4 C161.8,44.2 163.4,45 164.2,46.3 C164.6,47.5 163.6,48.6 161.8,49.1 C159.6,49.6 156.6,49.5 154.6,48.9 C153.3,48.4 152.5,47.6 152.6,46.6 Z" fill="#45c540"/>
<path d="M156,45 C157.5,44.2 159.5,44.6 160.5,45.6" stroke="#7be070" stroke-width="1" fill="none" opacity="0.8"/>
<path d="M168,48.3 L212.3,56.5" stroke="#4f8a74" stroke-width="0.9" opacity="0.8"/>
<path d="M213.6,56.4 C214.6,55.2 216.6,55.2 216.9,56.8 C216.9,58.4 215.1,59.5 213.8,58.9 Z" fill="#2f8a98" opacity="0.65"/>

</svg>
</body></html>
